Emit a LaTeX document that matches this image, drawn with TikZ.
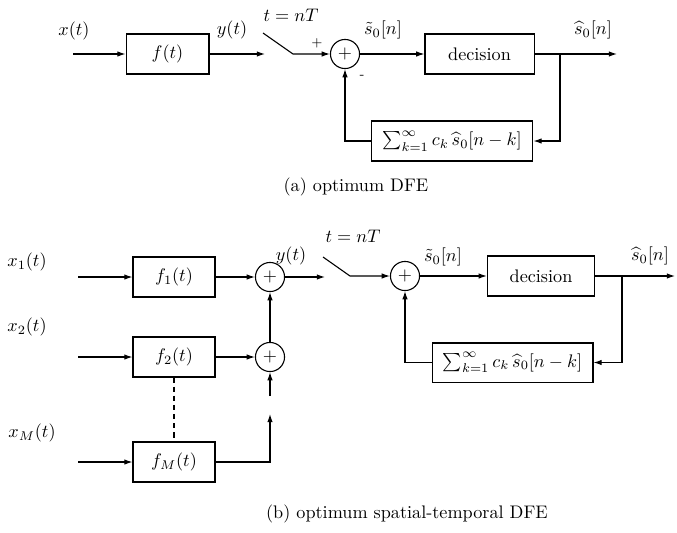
\documentclass[tikz,border=0pt]{standalone}
\usetikzlibrary{arrows.meta}
\begin{document}
\begin{tikzpicture}[x=0.55pt,y=-0.55pt, line width=0.6pt,
  >={Latex[length=4.5pt,width=3pt]},
  blk/.style={draw, inner sep=0pt, minimum height=22pt},
  sumn/.style={draw, circle, inner sep=0pt, minimum size=16pt},
  lbl/.style={inner sep=0pt},
  sgn/.style={inner sep=0pt, font=\scriptsize}]
\useasboundingbox (0,0) rectangle (677,532);

% ---------- (a) ----------
\coordinate (ina) at (73,54);
\node[lbl] (xa) at (74,31) {$x(t)$};
\node[blk, minimum width=45.6pt] (fa) at (167.5,54) {$f(t)$};
\draw[->] (ina) -- (fa);
\coordinate (ya) at (265,54);
\node[lbl] (yal) at (232,30) {$y(t)$};
\draw[->] (fa) -- (ya);
\coordinate (swa1) at (263,33);
\coordinate (swa2) at (293,54);
\node[lbl] (ta) at (291,15) {$t=nT$};
\node[sumn] (suma) at (345,54) {$+$};
\draw[->] (swa1) -- (swa2) -- (suma);
\node[sgn] (pa) at (317,43) {$+$};
\node[sgn] (ma) at (362,77) {-};
\node[blk, minimum width=60pt] (deca) at (479.5,54) {decision};
\draw[->] (suma) -- (deca);
\node[lbl] (sta) at (383,30) {$\tilde{s}_0[n]$};
\coordinate (bra) at (560,54);
\coordinate (outa) at (617,54);
\draw[->] (deca) -- (outa);
\node[lbl] (sha) at (593,30) {$\widehat{s}_0[n]$};
\node[blk, minimum width=89pt] (fba) at (452,141) {$\sum_{k=1}^{\infty} c_k\,\widehat{s}_0[n-k]$};
\draw[->] (bra) |- (fba.east);
\draw[->] (fba.west) -| (suma.south);
\node[lbl] (capa) at (356,187) {(a) optimum DFE};

% ---------- (b) ----------
\coordinate (in1) at (78,277);
\coordinate (in2) at (78,357);
\coordinate (in3) at (78,462);
\node[lbl] (x1) at (27,262) {$x_1(t)$};
\node[lbl] (x2) at (27,327) {$x_2(t)$};
\node[lbl] (xM) at (32,433) {$x_M(t)$};
\node[blk, minimum width=45.1pt] (f1) at (174,277) {$f_1(t)$};
\node[blk, minimum width=45.1pt] (f2) at (174,357) {$f_2(t)$};
\node[blk, minimum width=45.1pt] (fM) at (174,462) {$f_M(t)$};
\draw[->] (in1) -- (f1);
\draw[->] (in2) -- (f2);
\draw[->] (in3) -- (fM);
\draw[dashed, dash pattern=on 3pt off 2pt] (f2.south) -- (fM.north);
\node[sumn] (sum1) at (270,277) {$+$};
\node[sumn] (sum2) at (270,357) {$+$};
\draw[->] (f1) -- (sum1);
\draw[->] (f2) -- (sum2);
\draw[->] (sum2) -- (sum1);
\coordinate (cm) at (270,462);
\coordinate (gb1) at (270,414);
\coordinate (gb2) at (270,396);
\draw[->] (fM) -- (cm) -- (gb1);
\draw[->] (gb2) -- (sum2);
\coordinate (yb) at (325,277);
\draw[->] (sum1) -- (yb);
\node[lbl] (ybl) at (291,256) {$y(t)$};

\coordinate (swb1) at (323,257);
\coordinate (swb2) at (350,276);
\node[lbl] (tb) at (353,236) {$t=nT$};
\node[sumn] (sum3) at (405,276) {$+$};
\draw[->] (swb1) -- (swb2) -- (sum3);
\node[blk, minimum width=59pt] (decb) at (541,276) {decision};
\draw[->] (sum3) -- (decb);
\node[lbl] (stb) at (443,257) {$\tilde{s}_0[n]$};
\coordinate (brb) at (622,276);
\coordinate (outb) at (675,276);
\draw[->] (decb) -- (outb);
\node[lbl] (shb) at (650,256) {$\widehat{s}_0[n]$};
\node[blk, minimum width=88.5pt, minimum height=21.5pt] (fbb) at (512.5,362.5) {$\sum_{k=1}^{\infty} c_k\,\widehat{s}_0[n-k]$};
\draw[->] (brb) |- (fbb.east);
\draw[->] (fbb.west) -| (sum3.south);
\node[lbl] (capb) at (407,514) {(b) optimum spatial-temporal DFE};
\end{tikzpicture}
\end{document}
